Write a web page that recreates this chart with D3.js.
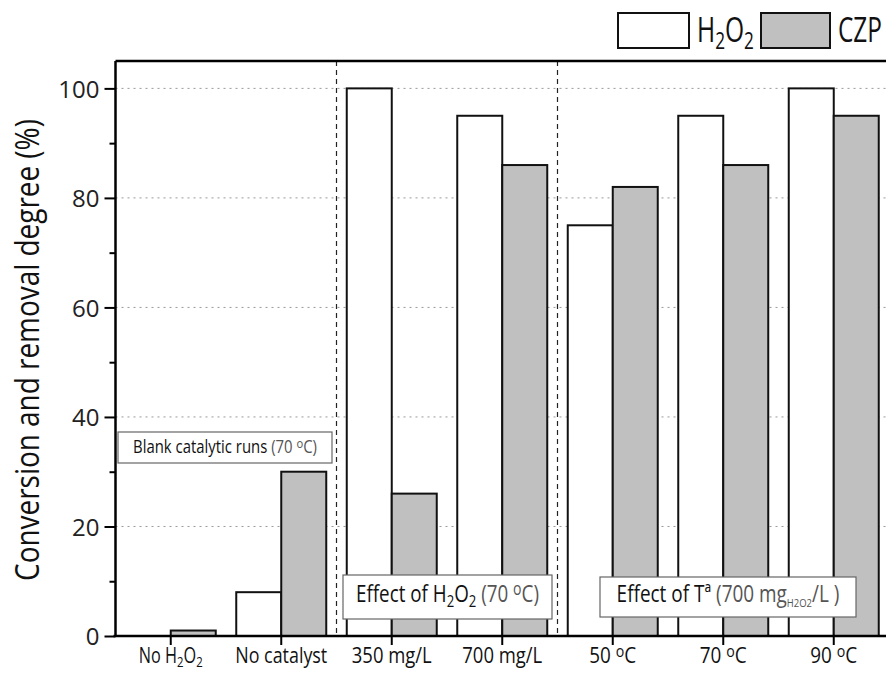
<!DOCTYPE html>
<html lang="en">
<head>
<meta charset="UTF-8">
<script src="https://d3js.org/d3.v7.min.js"></script>
<title>Conversion and removal degree</title>
<style>
  body { margin: 0; background: #fff; }
  text { font-family: "Open Sans", "Noto Sans", sans-serif; }
</style>
</head>
<body>
<svg id="chart" width="886" height="673"></svg>
<script>
// data
const categories = ["No H2O2", "No catalyst", "350 mg/L", "700 mg/L", "50 C", "70 C", "90 C"];
const h2o2 = [0, 8, 100, 95, 75, 95, 100];
const czp = [1, 30, 26, 86, 82, 86, 95];
const series = ["H2O2", "CZP"];
const yTicks = [0, 20, 40, 60, 80, 100];
const yMinor = [10, 30, 50, 70, 90];

const svg = d3.select("#chart");
const plotLeft = 115.5, plotRight = 889, plotTop = 61, plotBottom = 636;

const x = d3.scaleBand().domain(categories).range([plotLeft, plotRight]).padding(0);
const y = d3.scaleLinear().domain([0, 105]).range([plotBottom, plotTop]);
const fills = { H2O2: "#ffffff", CZP: "#c0c0c0" };

// text with sub/superscripts, squeezed horizontally to the reference width
function richText(sel, parts, size) {
    parts.forEach(p => {
        const t = sel.append("tspan").text(p[0]).attr("fill", p[2] || null);
        if (p[1] === "sub") t.attr("font-size", size * 0.7).attr("baseline-shift", "-30%");
        if (p[1] === "sup") t.attr("font-size", size * 0.75).attr("baseline-shift", "40%");
        if (p[1] === "sub2") t.attr("font-size", size * 0.5).attr("baseline-shift", "-45%");
    });
}
function label(parent, cx, by, parts, size, width, anchor, rotate) {
    const t = parent.append("text").attr("font-size", size).attr("fill", "#111")
        .attr("text-anchor", anchor || "middle");
    richText(t, parts, size);
    const w = t.node().getComputedTextLength();
    const sx = width ? width / w : 1;
    t.attr("transform", `translate(${cx},${by})` + (rotate ? " rotate(-90)" : "") + ` scale(${sx},1)`);
    return t;
}

// dotted gridlines
svg.append("g").selectAll("line").data(yTicks.filter(d => d > 0)).join("line")
    .attr("x1", plotLeft).attr("x2", plotRight)
    .attr("y1", d => y(d)).attr("y2", d => y(d))
    .attr("stroke", "#999").attr("stroke-width", 1).attr("stroke-dasharray", "2,4");

// dashed separators between groups
[[1, 2], [3, 4]].forEach(([a, b]) => {
    const xs = (x(categories[a]) + x(categories[b]) + x.bandwidth()) / 2;
    svg.append("line")
        .attr("x1", xs).attr("x2", xs).attr("y1", plotTop).attr("y2", plotBottom)
        .attr("stroke", "#222").attr("stroke-width", 1.2).attr("stroke-dasharray", "5,4");
});

// bars
const rows = categories.map((c, i) => ({ cat: c, H2O2: h2o2[i], CZP: czp[i] }));
const inner = d3.scaleBand().domain(series).range([-45, 45]).padding(0);
const groups = svg.append("g").selectAll("g").data(rows).join("g")
    .attr("transform", d => `translate(${x(d.cat) + x.bandwidth() / 2},0)`);
groups.selectAll("rect")
    .data(d => series.map(s => ({ key: s, value: d[s] })).filter(v => v.value > 0))
    .join("rect")
    .attr("x", d => inner(d.key))
    .attr("width", inner.bandwidth())
    .attr("y", d => y(d.value))
    .attr("height", d => plotBottom - y(d.value))
    .attr("fill", d => fills[d.key])
    .attr("stroke", "#111").attr("stroke-width", 2);

// frame top line
svg.append("line").attr("x1", plotLeft).attr("x2", plotRight).attr("y1", plotTop).attr("y2", plotTop)
    .attr("stroke", "#000").attr("stroke-width", 2.5);

// y axis
const yAxis = d3.axisLeft(y).tickValues(yTicks).tickSize(11).tickPadding(5).tickFormat(d3.format("d"));
const gy = svg.append("g").attr("transform", `translate(${plotLeft},0)`).call(yAxis);
gy.select(".domain").attr("stroke-width", 2.5).attr("d", `M0,${plotBottom}V${plotTop}`);
gy.selectAll(".tick line").attr("stroke-width", 2);
gy.selectAll(".tick text").attr("font-size", 24).attr("fill", "#222").attr("dy", "0.36em");
svg.append("g").attr("transform", `translate(${plotLeft},0)`)
    .call(d3.axisLeft(y).tickValues(yMinor).tickSize(6).tickFormat(""))
    .call(g => g.select(".domain").remove())
    .selectAll(".tick line").attr("stroke-width", 2);

// x axis
const xAxis = d3.axisBottom(x).tickSize(9).tickFormat("");
const gx = svg.append("g").attr("transform", `translate(0,${plotBottom})`).call(xAxis);
gx.select(".domain").attr("stroke-width", 2.5).attr("d", `M${plotLeft - 2},0H${plotRight}`);
gx.selectAll(".tick line").attr("stroke-width", 2);

// x tick labels
const labelParts = {
    "No H2O2": [["No H"], ["2", "sub"], ["O"], ["2", "sub"]],
    "No catalyst": [["No catalyst"]],
    "350 mg/L": [["350 mg/L"]],
    "700 mg/L": [["700 mg/L"]],
    "50 C": [["50 "], ["o", "sup"], ["C"]],
    "70 C": [["70 "], ["o", "sup"], ["C"]],
    "90 C": [["90 "], ["o", "sup"], ["C"]]
};
const labelWidths = { "No H2O2": 64, "No catalyst": 92, "350 mg/L": 80, "700 mg/L": 80, "50 C": 47, "70 C": 47, "90 C": 47 };
categories.forEach(c => {
    label(svg, x(c) + x.bandwidth() / 2, 663, labelParts[c], 21, labelWidths[c]);
});

// y label
label(svg, 39, 350, [["Conversion and removal degree (%)"]], 32, 462, "middle", true);

// legend
const legend = svg.append("g");
legend.append("rect").attr("x", 618).attr("y", 13).attr("width", 71).attr("height", 35)
    .attr("fill", fills.H2O2).attr("stroke", "#111").attr("stroke-width", 2);
label(legend, 697, 42, [["H"], ["2", "sub"], ["O"], ["2", "sub"]], 34, 57, "start");
legend.append("rect").attr("x", 761).attr("y", 13).attr("width", 69).attr("height", 35)
    .attr("fill", fills.CZP).attr("stroke", "#111").attr("stroke-width", 2);
label(legend, 838, 42, [["CZP"]], 34, 44, "start");

// annotation boxes
function note(bx, by, bw, bh, base, parts, size, tw) {
    svg.append("rect").attr("x", bx).attr("y", by).attr("width", bw).attr("height", bh)
        .attr("fill", "#fff").attr("stroke", "#666").attr("stroke-width", 1.2);
    label(svg, bx + bw / 2, base, parts, size, tw);
}
note(118, 432, 214, 31, 453,
    [["Blank catalytic runs "], ["(70 ", null, "#555"], ["o", "sup", "#555"], ["C)", null, "#555"]], 18, 184);
note(343, 575, 209, 44, 602,
    [["Effect of H"], ["2", "sub"], ["O"], ["2", "sub"], [" (70 ", null, "#555"], ["o", "sup", "#555"], ["C)", null, "#555"]], 23, 183);
note(600, 577, 256, 40, 602,
    [["Effect of Tª "], ["(700 mg", null, "#555"], ["H2O2", "sub2", "#555"], ["/L  )", null, "#555"]], 23, 223);
</script>
</body>
</html>
